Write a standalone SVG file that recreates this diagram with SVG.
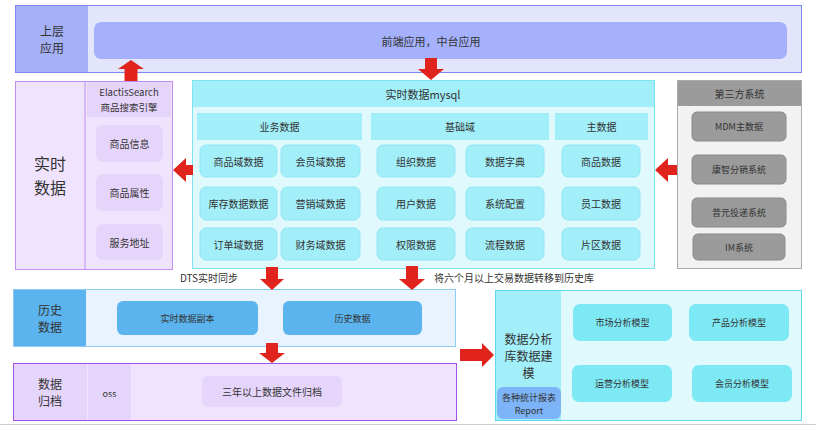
<svg xmlns="http://www.w3.org/2000/svg" width="816" height="426" viewBox="0 0 816 426">
<defs>
<style>
text{font-family:"Noto Sans CJK SC","Noto Sans",sans-serif;fill:#333;text-anchor:middle;dominant-baseline:central}
.t10{font-size:10px}.t9{font-size:9px}.t11{font-size:11px}.lb{font-size:12px}
.cy{fill:#a2eff9;stroke:#8ee8f4;stroke-width:1}
.pu{fill:#e6d5fb;stroke:none}
.gr{fill:#9b9b9b;stroke:#8a8a8a;stroke-width:1}
.bl{fill:#5bb4ee}
.md{fill:#7de9f5}
.arr{fill:#e0231c}
</style>
</defs>
<rect x="0" y="0" width="816" height="426" fill="#fff"/>
<line x1="0" y1="424.5" x2="816" y2="424.5" stroke="#cfcfcf"/>

<g id="upper">
<rect x="15.5" y="5.5" width="786" height="67" fill="#e3e6fb" stroke="#7a87f0"/>
<rect x="16" y="6" width="72" height="66" fill="#a5b0f7"/>
<text class="lb" x="52" y="30.5">上层</text>
<text class="lb" x="52" y="47.5">应用</text>
<rect x="94" y="22" width="693" height="37" rx="7" fill="#a5b1fd"/>
<text class="t11" x="431" y="41">前端应用，中台应用</text>
</g>

<g id="realtime">
<rect x="15.5" y="81.5" width="157" height="188" fill="#f0e3fd" stroke="#c08ef0"/>
<line x1="85" y1="82" x2="85" y2="269" stroke="#c08ef0"/>
<text x="50" y="163" style="font-size:16px">实时</text>
<text x="50" y="187" style="font-size:16px">数据</text>
<rect x="87" y="82" width="84" height="35" class="pu"/>
<text x="129" y="92" style="font-size:9.5px">ElactisSearch</text>
<text x="129" y="107" style="font-size:9.5px">商品搜索引擎</text>
<rect x="96" y="125" width="67" height="37" rx="7" class="pu"/>
<text class="t10" x="129.5" y="143.5">商品信息</text>
<rect x="96" y="174" width="67" height="37" rx="7" class="pu"/>
<text class="t10" x="129.5" y="192.5">商品属性</text>
<rect x="96" y="224" width="67" height="36" rx="7" class="pu"/>
<text class="t10" x="129.5" y="242">服务地址</text>
</g>

<g id="mysql">
<rect x="192.5" y="80.5" width="462" height="188" fill="#e0f9fc" stroke="#7fe3f1"/>
<rect x="193" y="81" width="461" height="26" fill="#a2eff9"/>
<text class="t11" x="423" y="94">实时数据mysql</text>
<rect x="197" y="113" width="165" height="27" fill="#a2eff9"/>
<text class="t10" x="279.5" y="126.5">业务数据</text>
<rect x="371" y="113" width="178" height="27" fill="#a2eff9"/>
<text class="t10" x="460" y="126.5">基础域</text>
<rect x="555" y="113" width="93" height="27" fill="#a2eff9"/>
<text class="t10" x="601.5" y="126.5">主数据</text>

<rect x="200" y="145" width="77" height="32" rx="6" class="cy"/><text class="t10" x="238.5" y="161">商品域数据</text>
<rect x="281" y="145" width="79" height="32" rx="6" class="cy"/><text class="t10" x="320.5" y="161">会员域数据</text>
<rect x="377" y="145" width="78" height="32" rx="6" class="cy"/><text class="t10" x="416" y="161">组织数据</text>
<rect x="466" y="145" width="78" height="32" rx="6" class="cy"/><text class="t10" x="505" y="161">数据字典</text>
<rect x="562" y="145" width="78" height="32" rx="6" class="cy"/><text class="t10" x="601" y="161">商品数据</text>

<rect x="200" y="187" width="77" height="33" rx="6" class="cy"/><text class="t10" x="238.5" y="203.5">库存数据数据</text>
<rect x="281" y="187" width="79" height="33" rx="6" class="cy"/><text class="t10" x="320.5" y="203.5">营销域数据</text>
<rect x="377" y="187" width="78" height="33" rx="6" class="cy"/><text class="t10" x="416" y="203.5">用户数据</text>
<rect x="466" y="187" width="78" height="33" rx="6" class="cy"/><text class="t10" x="505" y="203.5">系统配置</text>
<rect x="562" y="187" width="78" height="33" rx="6" class="cy"/><text class="t10" x="601" y="203.5">员工数据</text>

<rect x="200" y="228" width="77" height="32" rx="6" class="cy"/><text class="t10" x="238.5" y="244">订单域数据</text>
<rect x="281" y="228" width="79" height="32" rx="6" class="cy"/><text class="t10" x="320.5" y="244">财务域数据</text>
<rect x="377" y="228" width="78" height="32" rx="6" class="cy"/><text class="t10" x="416" y="244">权限数据</text>
<rect x="466" y="228" width="78" height="32" rx="6" class="cy"/><text class="t10" x="505" y="244">流程数据</text>
<rect x="562" y="228" width="78" height="32" rx="6" class="cy"/><text class="t10" x="601" y="244">片区数据</text>
</g>

<g id="thirdparty">
<rect x="677.5" y="80.5" width="124" height="188" fill="#f2f2f2" stroke="#aaa"/>
<rect x="678" y="81" width="123" height="25" fill="#9b9b9b"/>
<text class="t10" x="739.5" y="93.5">第三方系统</text>
<rect x="692" y="112" width="94" height="29" rx="5" class="gr"/><text class="t9" x="739" y="126.5">MDM主数据</text>
<rect x="692" y="155" width="94" height="29" rx="5" class="gr"/><text class="t9" x="739" y="169.5">康智分销系统</text>
<rect x="692" y="198" width="94" height="29" rx="5" class="gr"/><text class="t9" x="739" y="212.5">普元投递系统</text>
<rect x="693" y="234" width="92" height="26" rx="5" class="gr"/><text class="t9" x="739" y="247">IM系统</text>
</g>

<g id="history">
<rect x="13.5" y="289.5" width="442" height="57" fill="#e8f3fd" stroke="#8ecbf5"/>
<rect x="14" y="290" width="72" height="56" fill="#5bb4ee"/>
<text class="lb" x="50" y="309.5">历史</text>
<text class="lb" x="50" y="326.5">数据</text>
<rect x="117" y="301" width="141" height="34" rx="6" class="bl"/><text class="t9" x="187.5" y="318">实时数据副本</text>
<rect x="283" y="301" width="139" height="34" rx="6" class="bl"/><text class="t9" x="352.5" y="318">历史数据</text>
</g>

<g id="archive">
<rect x="13.5" y="363.5" width="443" height="57" fill="#f0e3fd" stroke="#a055ee"/>
<rect x="14" y="364" width="73" height="56" class="pu"/>
<rect x="88" y="364" width="43" height="56" class="pu"/>
<text class="lb" x="50" y="383.5">数据</text>
<text class="lb" x="50" y="400.5">归档</text>
<text class="t9" x="109.5" y="393">oss</text>
<rect x="202" y="376" width="140" height="31" rx="6" class="pu"/>
<text class="t10" x="272" y="391.5">三年以上数据文件归档</text>
</g>

<g id="analysis">
<rect x="495.5" y="290.5" width="306" height="130" fill="#e0f9fc" stroke="#5fd8ee"/>
<rect x="496" y="291" width="65" height="129" fill="#a2eff9"/>
<text class="lb" x="528.5" y="338">数据分析</text>
<text class="lb" x="528.5" y="355">库数据建</text>
<text class="lb" x="528.5" y="372">模</text>
<rect x="497" y="387" width="64" height="32" rx="6" fill="#7db4f7"/>
<text class="t9" x="529" y="397">各种统计报表</text>
<text class="t9" x="529" y="410">Report</text>
<rect x="573" y="304" width="99" height="37" rx="7" class="md"/><text class="t9" x="622.5" y="322.5">市场分析模型</text>
<rect x="689" y="304" width="100" height="37" rx="7" class="md"/><text class="t9" x="739" y="322.5">产品分析模型</text>
<rect x="572" y="365" width="100" height="37" rx="7" class="md"/><text class="t9" x="622" y="383.5">运营分析模型</text>
<rect x="692" y="365" width="100" height="37" rx="7" class="md"/><text class="t9" x="742" y="383.5">会员分析模型</text>
</g>

<g id="connectors">
<polygon class="arr" points="131,60 144,69 137.5,69 137.5,81 124.5,81 124.5,69 118,69"/>
<polygon class="arr" points="425,58 437,58 437,69 444,69 431,80 418,69 425,69"/>
<polygon class="arr" points="173,170 186,158 186,165 193,165 193,175 186,175 186,182"/>
<polygon class="arr" points="655,170 668,158 668,165 677,165 677,175 668,175 668,182"/>
<polygon class="arr" points="266,267 278,267 278,279 284,279 272,290 260,279 266,279"/>
<polygon class="arr" points="406,266 418,266 418,279 425,279 412,290 399,279 406,279"/>
<polygon class="arr" points="266,343 278,343 278,353 285,353 272,363 259,353 266,353"/>
<polygon class="arr" points="460,349 482,349 482,343 494,355 482,367 482,361 460,361"/>
<text class="t10" x="209" y="277">DTS实时同步</text>
<text class="t10" x="514" y="277">将六个月以上交易数据转移到历史库</text>
</g>
</svg>
